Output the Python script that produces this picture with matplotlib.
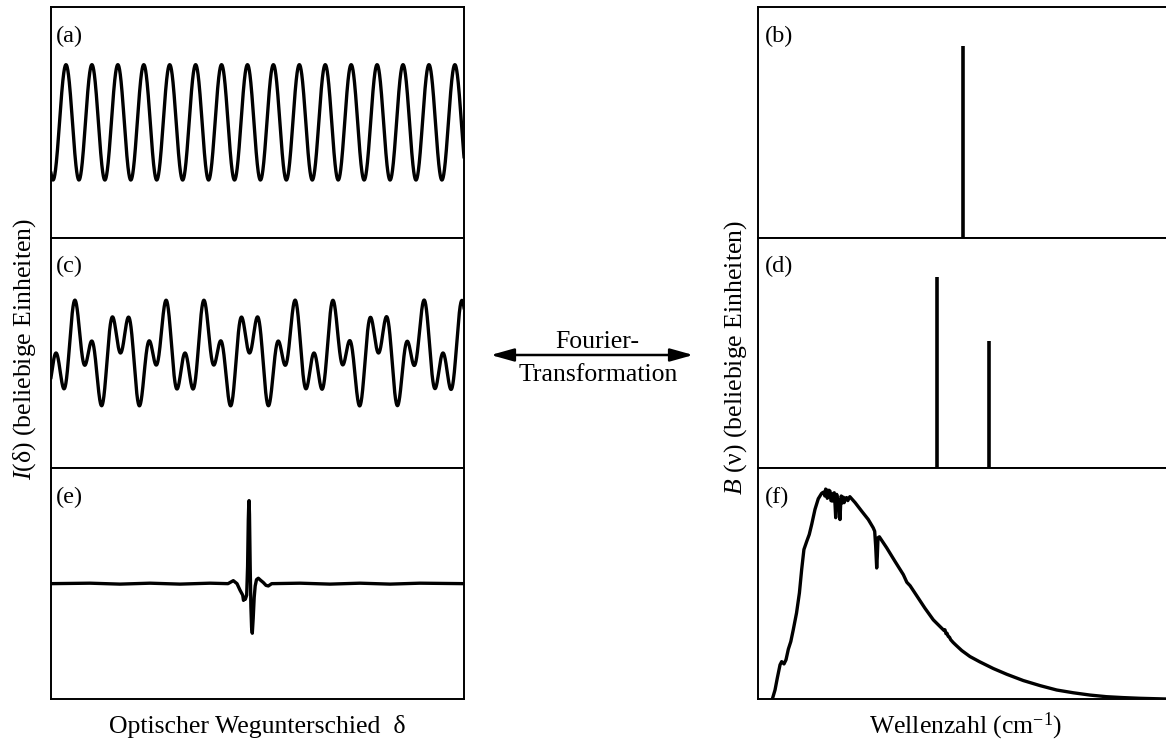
import numpy as np
import matplotlib
matplotlib.use('Agg')
import matplotlib.pyplot as plt
from matplotlib.patches import FancyArrowPatch

plt.rcParams['font.family'] = ['Liberation Serif', 'DejaVu Serif']
plt.rcParams['mathtext.fontset'] = 'custom'
plt.rcParams['mathtext.rm'] = 'Liberation Serif'
plt.rcParams['mathtext.it'] = 'Liberation Serif:italic'

# interferogram components (cycles per panel width, amplitude, reference position)
freq_a = [15.93]
amp_a = [0.50]
ref_a = 0.0363

freq_c = [9.60, 22.41]
amp_c = [-0.239, 0.239]
ref_c = 0.3245

# spectral lines (position on wavenumber axis, height)
pos_b = [0.50]
height_b = [0.83]
pos_d = [0.436, 0.563]
height_d = [0.83, 0.55]

# broadband interferogram (e)
delta_e = [0.0, 0.0944, 0.167, 0.2397, 0.3123, 0.385, 0.4286, 0.4414, 0.4504,
           0.4576, 0.4642, 0.4661, 0.4683, 0.4705, 0.4738, 0.476, 0.4777, 0.4789,
           0.4796, 0.4806, 0.4823, 0.484, 0.4857, 0.4874, 0.4896, 0.492, 0.4944,
           0.4976, 0.502, 0.5073, 0.514, 0.5206, 0.5262, 0.5344, 0.603, 0.6755,
           0.748, 0.821, 0.893, 1.0]
signal_e = [0.0, 0.004, -0.004, 0.004, -0.004, 0.004, 0.0, 0.026, 0.0,
            -0.056, -0.10, -0.145, -0.12, -0.135, -0.10, 0.15, 0.55, 0.70,
            0.72, 0.60, 0.15, -0.20, -0.38, -0.43, -0.30, -0.12, -0.02,
            0.035, 0.047, 0.03, 0.01, -0.015, -0.02, 0.0, 0.004, -0.004,
            0.004, -0.004, 0.004, 0.0]

# broadband spectrum (f)
nu_f = [0.035, 0.0415, 0.047, 0.0537, 0.0577, 0.0634, 0.0683, 0.074, 0.080, 0.086,
        0.094, 0.101, 0.1065, 0.112, 0.119, 0.125, 0.131, 0.139, 0.147, 0.155,
        0.158, 0.161, 0.163, 0.165, 0.1675, 0.169, 0.1715, 0.173, 0.1756, 0.178,
        0.181, 0.183, 0.186, 0.188, 0.1895, 0.1905, 0.192, 0.194, 0.196, 0.198,
        0.200, 0.2015, 0.203, 0.2055, 0.208, 0.210, 0.213, 0.216, 0.219, 0.224,
        0.237, 0.253, 0.269, 0.281, 0.2846, 0.287,
        0.2895, 0.291, 0.2927, 0.296, 0.314, 0.334, 0.3545, 0.363, 0.371, 0.387,
        0.407, 0.4276, 0.444, 0.4537, 0.456, 0.4585, 0.461, 0.464, 0.467, 0.470,
        0.476, 0.483, 0.497,
        0.517, 0.541, 0.574, 0.607, 0.647, 0.688, 0.7285, 0.769, 0.810, 0.850,
        0.891, 0.932, 0.995]
b_f = [0.0, 0.039, 0.090, 0.148, 0.162, 0.152, 0.170, 0.216, 0.249, 0.300,
       0.373, 0.460, 0.561, 0.648, 0.684, 0.713, 0.757, 0.822, 0.868, 0.891,
       0.895, 0.897, 0.880, 0.910, 0.906, 0.870, 0.880, 0.905, 0.901, 0.860,
       0.858, 0.890, 0.894, 0.840, 0.786, 0.840, 0.887, 0.860, 0.865, 0.820,
       0.778, 0.840, 0.880, 0.850, 0.875, 0.851, 0.870, 0.873, 0.860, 0.877,
       0.851, 0.814, 0.778, 0.742, 0.727, 0.662,
       0.568, 0.619, 0.699, 0.703, 0.655, 0.597, 0.539, 0.506, 0.491, 0.448,
       0.394, 0.343, 0.314, 0.297, 0.300, 0.283, 0.285, 0.271, 0.268, 0.257,
       0.245, 0.233, 0.210,
       0.184, 0.161, 0.132, 0.107, 0.080, 0.058, 0.039, 0.027, 0.017, 0.010,
       0.006, 0.003, 0.0]


def interferogram(delta, freqs, amps, ref):
    out = np.zeros_like(delta)
    for f, a in zip(freqs, amps):
        out += a * np.cos(2 * np.pi * f * (delta - ref))
    return out


W, H = 1166, 742
fig = plt.figure(figsize=(W / 100, H / 100), dpi=100)


def px_axes(x0, x1, y0, y1):
    ax = fig.add_axes([x0 / W, 1 - y1 / H, (x1 - x0) / W, (y1 - y0) / H])
    ax.set_xticks([])
    ax.set_yticks([])
    for s in ax.spines.values():
        s.set_linewidth(1.4)
    return ax


rows = [7, 237.7, 468.3, 699]
lw = 2.4
delta = np.linspace(0, 1, 3000)

left_axes = []
right_axes = []
for i in range(3):
    la = px_axes(51, 464, rows[i], rows[i + 1])
    la.set_xlim(0, 1)
    la.set_ylim(-1, 1)
    left_axes.append(la)
    ra = px_axes(758, 1168, rows[i], rows[i + 1])
    ra.set_xlim(0, 1)
    ra.set_ylim(0, 1)
    right_axes.append(ra)

ax_a, ax_c, ax_e = left_axes
ax_b, ax_d, ax_f = right_axes

ax_a.plot(delta, interferogram(delta, freq_a, amp_a, ref_a), color='black', lw=lw)
ax_c.plot(delta, interferogram(delta, freq_c, amp_c, ref_c), color='black', lw=lw)
ax_e.plot(delta_e, signal_e, color='black', lw=lw)

ax_b.vlines(pos_b, 0, height_b, color='black', lw=2.6)
ax_d.vlines(pos_d, 0, height_d, color='black', lw=2.6)
ax_f.plot(nu_f, b_f, color='black', lw=lw)

for ax, lab in zip(left_axes, ['(a)', '(c)', '(e)']):
    ax.text(0.012, 0.92, lab, transform=ax.transAxes, ha='left', va='top', fontsize=17.5)
for ax, lab in zip(right_axes, ['(b)', '(d)', '(f)']):
    ax.text(0.017, 0.92, lab, transform=ax.transAxes, ha='left', va='top', fontsize=17.5)

fs = 18.5
fig.text(25 / W, 1 - 349 / H, '$I$(δ) (beliebige Einheiten)', rotation=90,
         ha='center', va='center', fontsize=fs)
fig.text(736 / W, 1 - 358 / H, '$B$ (ν) (beliebige Einheiten)', rotation=90,
         ha='center', va='center', fontsize=fs)
fig.text(257 / W, 1 - 733 / H, 'Optischer Wegunterschied  δ', ha='center',
         va='baseline', fontsize=fs)
fig.text(966 / W, 1 - 733 / H, 'Wellenzahl (cm$^{-1}$)', ha='center',
         va='baseline', fontsize=fs)

fig.text(597 / W, 1 - 348 / H, 'Fourier-', ha='center', va='baseline', fontsize=fs)
fig.text(598 / W, 1 - 381 / H, 'Transformation', ha='center', va='baseline', fontsize=fs)
arrow = FancyArrowPatch((488 / W, 1 - 355 / H), (696 / W, 1 - 355 / H),
                        transform=fig.transFigure,
                        arrowstyle='<|-|>,head_length=1.0,head_width=0.28',
                        mutation_scale=14, lw=1.8, color='black')
fig.add_artist(arrow)

fig.savefig('out.png', dpi=100)
